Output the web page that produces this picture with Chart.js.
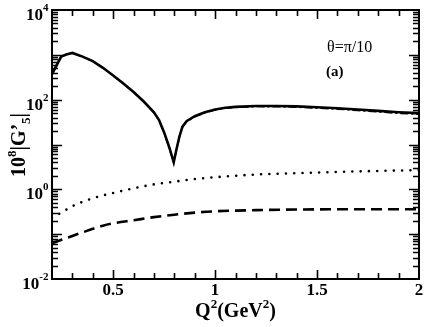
<!DOCTYPE html>
<html>
<head>
<meta charset="utf-8">
<script src="https://cdn.jsdelivr.net/npm/chart.js@4/dist/chart.umd.min.js"></script>
<style>
html,body{margin:0;padding:0;background:#fff;}
canvas{display:block;}
</style>
</head>
<body>
<canvas id="c" width="425" height="327"></canvas>
<script>
// ---- data ----
const solidQ = [0.2, 0.245, 0.27, 0.3, 0.35, 0.4, 0.45, 0.5, 0.55, 0.6, 0.65, 0.7, 0.725, 0.75, 0.775, 0.797, 0.81, 0.825, 0.84, 0.86, 0.9, 0.95, 1.0, 1.05, 1.1, 1.2, 1.3, 1.4, 1.5, 1.6, 1.7, 1.8, 1.9, 2.0];
const solidG = [372, 912, 1020, 1100, 912, 724, 513, 347, 229, 148, 91, 52, 35, 18.6, 8.7, 4.0, 7.6, 15.1, 25.1, 33.1, 42.7, 52.5, 60.3, 66.1, 69.2, 72.4, 72.4, 70.8, 67.6, 64.6, 60.3, 56.2, 52.5, 50.1];
const dashDotQ = [0.2, 0.245, 0.27, 0.3, 0.35, 0.4, 0.45, 0.5, 0.55, 0.6, 0.65, 0.7, 0.725, 0.75, 0.775, 0.797, 0.81, 0.825, 0.84, 0.86, 0.9, 0.95, 1.0, 1.05, 1.1, 1.2, 1.3, 1.4, 1.5, 1.6, 1.7, 1.8, 1.9, 2.0];
const dashDotG = [368, 905, 1010, 1090, 905, 718, 508, 343, 226, 146, 90, 51, 34, 18.0, 8.4, 3.9, 7.3, 14.6, 24.3, 32.2, 41.5, 51.0, 58.6, 64.2, 67.1, 70.0, 69.8, 68.0, 64.7, 61.5, 57.3, 53.2, 49.5, 47.0];
const dottedQ = [0.2, 0.25, 0.3, 0.4, 0.5, 0.6, 0.7, 0.8, 0.9, 1.0, 1.2, 1.4, 1.6, 1.8, 2.0];
const dottedG = [0.23, 0.31, 0.42, 0.63, 0.83, 1.05, 1.29, 1.48, 1.70, 1.86, 2.14, 2.29, 2.45, 2.57, 2.69];
const dashedQ = [0.2, 0.25, 0.3, 0.35, 0.4, 0.45, 0.5, 0.6, 0.7, 0.8, 0.9, 1.0, 1.2, 1.4, 1.7, 2.0];
const dashedG = [0.063, 0.0759, 0.0912, 0.1096, 0.1318, 0.155, 0.174, 0.204, 0.240, 0.272, 0.302, 0.324, 0.343, 0.355, 0.359, 0.359];

const xMajorTicks = [0.5, 1, 1.5, 2];
const xTickLabels = ["0.5", "1", "1.5", "2"];
const yDecades = [0.01, 1, 100, 10000];
const yTickExponents = ["-2", "0", "2", "4"];

function pts(q, g){ return q.map((v,i)=>({x:v, y:g[i]})); }

const SERIF = '"Liberation Serif","Times New Roman",serif';

const decor = {
  id: 'decor',
  afterDraw(chart){
    const ctx = chart.ctx, a = chart.chartArea;
    const xs = chart.scales.x, ys = chart.scales.y;
    ctx.save();
    ctx.strokeStyle = '#000';
    ctx.fillStyle = '#000';
    ctx.lineWidth = 2;
    ctx.strokeRect(a.left, a.top, a.right - a.left, a.bottom - a.top);
    ctx.lineWidth = 1.6;
    ctx.beginPath();
    for (let k = 3; k < 20; k++) {
      const v = k / 10;
      const px = Math.round(xs.getPixelForValue(v)) + 0.5;
      const major = (k % 5 === 0);
      const L = major ? 9 : 6;
      ctx.moveTo(px, a.bottom); ctx.lineTo(px, a.bottom - L);
      ctx.moveTo(px, a.top); ctx.lineTo(px, a.top + L);
    }
    for (let e = -2; e < 4; e++) {
      for (let m = 1; m <= 9; m++) {
        const v = m * Math.pow(10, e);
        if (m === 1 && e === -2) continue;
        const py = Math.round(ys.getPixelForValue(v)) + 0.5;
        const L = (m === 1) ? 10 : 6;
        ctx.moveTo(a.left, py); ctx.lineTo(a.left + L, py);
        ctx.moveTo(a.right, py); ctx.lineTo(a.right - L, py);
      }
    }
    ctx.stroke();

    ctx.font = 'bold 17px ' + SERIF;
    ctx.textAlign = 'center';
    ctx.textBaseline = 'alphabetic';
    xMajorTicks.forEach((v, i) => {
      ctx.fillText(xTickLabels[i], xs.getPixelForValue(v), 295);
    });

    yDecades.forEach((v, i) => {
      const py = ys.getPixelForValue(v);
      ctx.textAlign = 'left';
      ctx.font = 'bold 11px ' + SERIF;
      const ew = ctx.measureText(yTickExponents[i]).width;
      ctx.font = 'bold 17px ' + SERIF;
      const bw = ctx.measureText('10').width;
      const right = 48.5;
      const x0 = right - ew - bw;
      ctx.fillText('10', x0, py + 10);
      ctx.font = 'bold 11px ' + SERIF;
      ctx.fillText(yTickExponents[i], x0 + bw, py + 1);
    });

    const big = 'bold 20px ' + SERIF, sup = 'bold 13px ' + SERIF;
    const parts = [['Q', big, 0], ['2', sup, -9], ['(GeV', big, 0], ['2', sup, -9], [')', big, 0]];
    let tot = 0;
    parts.forEach(p => { ctx.font = p[1]; tot += ctx.measureText(p[0]).width; });
    let x = (a.left + a.right) / 2 - tot / 2;
    ctx.textAlign = 'left';
    parts.forEach(p => { ctx.font = p[1]; ctx.fillText(p[0], x, 317 + p[2]); x += ctx.measureText(p[0]).width; });

    const yparts = [['10', big, 0], ['8', sup, -9], ['|G\u2019', big, 0], ['5', sup, 5], ['|', big, 0]];
    tot = 0;
    yparts.forEach(p => { ctx.font = p[1]; tot += ctx.measureText(p[0]).width; });
    ctx.save();
    ctx.translate(25, 145);
    ctx.rotate(-Math.PI / 2);
    x = -tot / 2;
    yparts.forEach(p => { ctx.font = p[1]; ctx.fillText(p[0], x, p[2]); x += ctx.measureText(p[0]).width; });
    ctx.restore();

    ctx.font = '16px ' + SERIF;
    ctx.fillText('\u03B8=\u03C0/10', 327, 52);
    ctx.font = 'bold 15px ' + SERIF;
    ctx.fillText('(a)', 326, 76);
    ctx.restore();
  }
};

new Chart(document.getElementById('c'), {
  type: 'line',
  data: {
    datasets: [
      { data: pts(dashDotQ, dashDotG), borderColor: '#000', borderWidth: 1.5, borderDash: [8, 3, 2, 3], pointRadius: 0, fill: false, tension: 0 },
      { data: pts(solidQ, solidG), borderColor: '#000', borderWidth: 2.6, pointRadius: 0, fill: false, tension: 0 },
      { data: pts(dottedQ, dottedG), borderColor: '#000', borderWidth: 2.6, borderDash: [0, 8.3], borderCapStyle: 'round', pointRadius: 0, fill: false, cubicInterpolationMode: 'monotone' },
      { data: pts(dashedQ, dashedG), borderColor: '#000', borderWidth: 2.6, borderDash: [11, 6], pointRadius: 0, fill: false, cubicInterpolationMode: 'monotone' }
    ]
  },
  options: {
    responsive: false,
    animation: false,
    devicePixelRatio: 1,
    layout: { padding: { left: 52, top: 10, right: 6, bottom: 48 } },
    plugins: { legend: { display: false }, tooltip: { enabled: false } },
    scales: {
      x: { type: 'linear', min: 0.2, max: 2, display: false },
      y: { type: 'logarithmic', min: 0.01, max: 10000, display: false }
    }
  },
  plugins: [decor]
});
</script>
</body>
</html>
